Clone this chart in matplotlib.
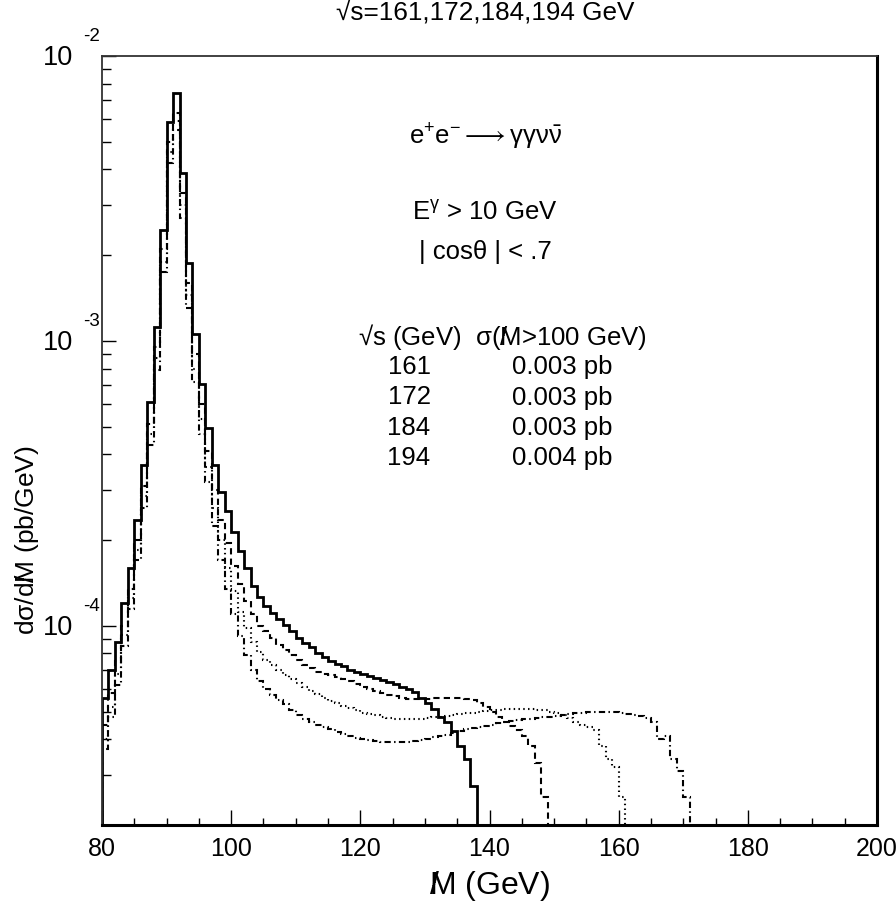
import numpy as np
import matplotlib
matplotlib.use("Agg")
import matplotlib.pyplot as plt

plt.rcParams['font.family'] = ['Liberation Sans', 'DejaVu Sans']
plt.rcParams['mathtext.fontset'] = 'custom'
plt.rcParams['mathtext.rm'] = 'Liberation Sans'
plt.rcParams['mathtext.it'] = 'Liberation Sans:italic'

# 1 GeV bins starting at 80 GeV
m_start = 80

# sqrt(s) = 161 GeV (solid)
h161 = [5.6e-5, 7.0e-5, 8.8e-5, 1.2e-4, 1.6e-4, 2.35e-4, 3.67e-4, 6.1e-4, 1.12e-3, 2.46e-3,
        5.86e-3, 7.4e-3, 3.9e-3, 1.88e-3, 1.06e-3, 7.06e-4, 4.95e-4, 3.67e-4, 2.95e-4, 2.53e-4,
        2.14e-4, 1.83e-4, 1.6e-4, 1.38e-4, 1.26e-4, 1.17e-4, 1.11e-4, 1.06e-4, 1.01e-4, 9.6e-5,
        9.1e-5, 8.7e-5, 8.4e-5, 8.0e-5, 7.8e-5, 7.5e-5, 7.35e-5, 7.2e-5, 7.0e-5, 6.9e-5,
        6.76e-5, 6.65e-5, 6.55e-5, 6.45e-5, 6.35e-5, 6.25e-5, 6.1e-5, 6.0e-5, 5.85e-5, 5.6e-5,
        5.35e-5, 5.1e-5, 4.8e-5, 4.6e-5, 4.26e-5, 3.8e-5, 3.4e-5, 2.75e-5]

# sqrt(s) = 172 GeV (dashed)
h172 = [4.5e-5, 5.8e-5, 7.5e-5, 1.0e-4, 1.35e-4, 2.0e-4, 3.1e-4, 5.1e-4, 9.5e-4, 2.1e-3,
        5.0e-3, 6.3e-3, 3.3e-3, 1.6e-3, 9.0e-4, 6.0e-4, 4.1e-4, 3.0e-4, 2.35e-4, 1.95e-4,
        1.62e-4, 1.4e-4, 1.22e-4, 1.1e-4, 1.0e-4, 9.6e-5, 9.1e-5, 8.6e-5, 8.2e-5, 7.9e-5,
        7.6e-5, 7.3e-5, 7.1e-5, 6.9e-5, 6.8e-5, 6.7e-5, 6.6e-5, 6.5e-5, 6.4e-5, 6.25e-5,
        6.1e-5, 6.0e-5, 5.9e-5, 5.8e-5, 5.7e-5, 5.65e-5, 5.6e-5, 5.55e-5, 5.55e-5, 5.55e-5,
        5.55e-5, 5.6e-5, 5.6e-5, 5.6e-5, 5.6e-5, 5.6e-5, 5.55e-5, 5.5e-5, 5.35e-5, 5.2e-5,
        5.0e-5, 4.8e-5, 4.6e-5, 4.45e-5, 4.3e-5, 4.1e-5, 3.8e-5, 3.3e-5, 2.5e-5]

# sqrt(s) = 184 GeV (dotted)
h184 = [4.0e-5, 5.2e-5, 6.8e-5, 9.3e-5, 1.25e-4, 1.85e-4, 2.85e-4, 4.7e-4, 8.7e-4, 1.9e-3,
        4.6e-3, 5.9e-3, 3.0e-3, 1.45e-3, 8.0e-4, 5.3e-4, 3.6e-4, 2.6e-4, 2.0e-4, 1.6e-4,
        1.32e-4, 1.12e-4, 9.8e-5, 8.8e-5, 8.1e-5, 7.6e-5, 7.3e-5, 7.0e-5, 6.7e-5, 6.5e-5,
        6.3e-5, 6.1e-5, 5.9e-5, 5.75e-5, 5.6e-5, 5.45e-5, 5.35e-5, 5.25e-5, 5.15e-5, 5.05e-5,
        4.95e-5, 4.9e-5, 4.85e-5, 4.8e-5, 4.75e-5, 4.72e-5, 4.7e-5, 4.7e-5, 4.7e-5, 4.72e-5,
        4.75e-5, 4.78e-5, 4.8e-5, 4.83e-5, 4.87e-5, 4.9e-5, 4.93e-5, 4.96e-5, 5.0e-5, 5.02e-5,
        5.05e-5, 5.08e-5, 5.1e-5, 5.1e-5, 5.1e-5, 5.1e-5, 5.1e-5, 5.08e-5, 5.05e-5, 5.0e-5,
        4.95e-5, 4.85e-5, 4.75e-5, 4.6e-5, 4.5e-5, 4.4e-5, 4.3e-5, 3.8e-5, 3.4e-5, 3.2e-5,
        2.5e-5]

# sqrt(s) = 194 GeV (dash-dot)
h194 = [3.7e-5, 4.8e-5, 6.2e-5, 8.5e-5, 1.15e-4, 1.7e-4, 2.6e-4, 4.3e-4, 7.9e-4, 1.75e-3,
        4.2e-3, 5.5e-3, 2.7e-3, 1.3e-3, 7.2e-4, 4.7e-4, 3.2e-4, 2.25e-4, 1.7e-4, 1.35e-4,
        1.1e-4, 9.2e-5, 7.9e-5, 7.0e-5, 6.4e-5, 6.0e-5, 5.7e-5, 5.5e-5, 5.3e-5, 5.05e-5,
        4.85e-5, 4.7e-5, 4.6e-5, 4.5e-5, 4.42e-5, 4.33e-5, 4.25e-5, 4.18e-5, 4.1e-5, 4.05e-5,
        4.0e-5, 3.97e-5, 3.94e-5, 3.92e-5, 3.9e-5, 3.9e-5, 3.9e-5, 3.92e-5, 3.95e-5, 3.98e-5,
        4.02e-5, 4.06e-5, 4.1e-5, 4.15e-5, 4.22e-5, 4.28e-5, 4.33e-5, 4.38e-5, 4.42e-5, 4.46e-5,
        4.5e-5, 4.55e-5, 4.6e-5, 4.64e-5, 4.67e-5, 4.7e-5, 4.72e-5, 4.75e-5, 4.78e-5, 4.8e-5,
        4.83e-5, 4.87e-5, 4.9e-5, 4.93e-5, 4.96e-5, 5.0e-5, 5.0e-5, 5.0e-5, 5.0e-5, 4.98e-5,
        4.95e-5, 4.92e-5, 4.88e-5, 4.82e-5, 4.75e-5, 4.6e-5, 4.0e-5, 4.1e-5, 3.4e-5, 3.1e-5,
        2.5e-5]

energies = ['161', '172', '184', '194']
sigma_tail = ['0.003 pb', '0.003 pb', '0.003 pb', '0.004 pb']

fig = plt.figure(figsize=(8.96, 9.03), dpi=100)
ax = fig.add_axes([102/896, 1-826/903, 775/896, 769/903])

styles = [dict(lw=2.0, ls='-'),
          dict(lw=1.5, ls=(0, (3, 2))),
          dict(lw=1.5, ls=(0, (0.7, 1.6))),
          dict(lw=1.5, ls=(0, (3, 1.6, 0.7, 1.6)))]

for h, st in zip([h161, h172, h184, h194], styles):
    edges = np.arange(m_start, m_start + len(h) + 1)
    ax.stairs(h, edges, baseline=1e-7, color='black', **st)

ax.set_yscale('log')
ax.set_xlim(80, 200)
ax.set_ylim(2e-5, 1e-2)

ax.set_xticks(np.arange(80, 201, 20))
ax.set_xticks(np.arange(80, 201, 5), minor=True)
ax.tick_params(axis='x', which='major', direction='in', length=11, width=1.0,
               labelsize=18, pad=8, top=False)
ax.tick_params(axis='x', which='minor', direction='in', length=5, width=1.0, top=False)
ax.tick_params(axis='y', which='major', direction='in', length=10, width=1.0,
               labelleft=False, right=False)
ax.tick_params(axis='y', which='minor', direction='in', length=6.5, width=1.0,
               labelleft=False, right=False)

for s in ['left', 'top']:
    ax.spines[s].set_linewidth(1.3)
    ax.spines[s].set_color('#333333')
for s in ['right', 'bottom']:
    ax.spines[s].set_linewidth(2.2)
    ax.spines[s].set_color('black')

# ROOT-style decade labels
for exp in [-2, -3, -4]:
    ax.annotate('10', xy=(0, 10.0**exp), xycoords=('axes fraction', 'data'),
                xytext=(-29, -1), textcoords='offset pixels',
                ha='right', va='center', fontsize=19.5)
    ax.annotate(str(exp), xy=(0, 10.0**exp), xycoords=('axes fraction', 'data'),
                xytext=(-19, 20), textcoords='offset pixels',
                ha='left', va='center', fontsize=13.5)

# slashed M (missing mass): slash drawn over the left part of the M
mslash = r'$\mathrm{/}\!\!\mathrm{M}$'
ax.set_xlabel(mslash + ' (GeV)', fontsize=23, labelpad=6)
fig.text(27/896, 1-540/903, 'd\u03c3/d' + mslash + ' (pb/GeV)', rotation=90,
         ha='center', va='center', fontsize=19)

fig.text(485/896, 1-13/903, '\u221as=161,172,184,194 GeV', ha='center', va='center',
         fontsize=18.8)

fs = 18.5
fig.text(486/896, 1-137/903,
         r'e$^{+}$e$^{-}\longrightarrow\mathrm{\gamma\gamma\nu}\bar{\mathrm{\nu}}$',
         ha='center', va='center', fontsize=fs)
fig.text(485/896, 1-213/903, r'E$^{\mathrm{\gamma}}$ > 10 GeV', ha='center', va='center',
         fontsize=fs)
fig.text(485/896, 1-252/903, '| cos\u03b8 | < .7', ha='center', va='center', fontsize=fs)

fig.text(358/896, 1-337/903, '\u221as (GeV)  \u03c3(' + mslash + '>100 GeV)',
         ha='left', va='center', fontsize=fs)
for i, (e, sg) in enumerate(zip(energies, sigma_tail)):
    y = 367 + i * 30.5
    fig.text(409/896, 1-y/903, e, ha='center', va='center', fontsize=fs)
    fig.text(512/896, 1-y/903, sg, ha='left', va='center', fontsize=fs)

fig.savefig('out.png', dpi=100)
